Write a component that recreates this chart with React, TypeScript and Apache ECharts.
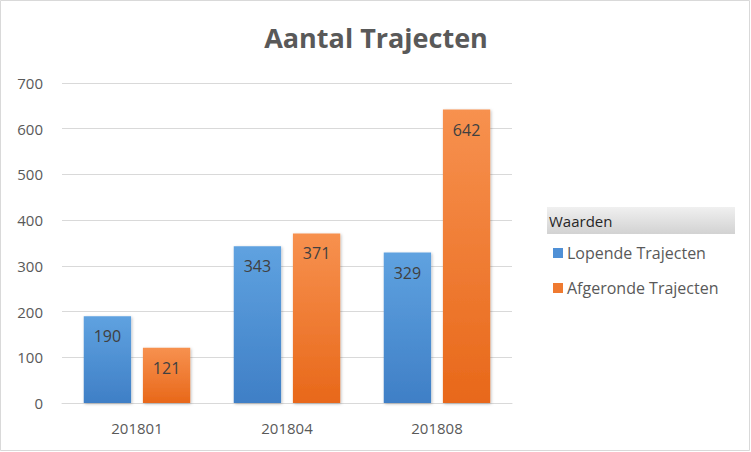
import React, { useEffect, useRef } from "react";
import * as echarts from "echarts";

const categories = ["201801", "201804", "201808"];
const lopende = [190, 343, 329];
const afgeronde = [121, 371, 642];
const seriesNames = ["Lopende Trajecten", "Afgeronde Trajecten"];
const yTicks = [0, 100, 200, 300, 400, 500, 600, 700];

const FONT = "'Open Sans', Lato, sans-serif";

export default function App() {
  const ref = useRef<HTMLDivElement>(null);
  useEffect(() => {
    if (!ref.current) return;
    const chart = echarts.init(ref.current, undefined, { renderer: "svg" });
    const blue = new echarts.graphic.LinearGradient(0, 0, 0, 1, [
      { offset: 0, color: "#5fa2e0" },
      { offset: 1, color: "#3f7fc6" },
    ]);
    const orange = new echarts.graphic.LinearGradient(0, 0, 0, 1, [
      { offset: 0, color: "#f7914f" },
      { offset: 1, color: "#e8681a" },
    ]);
    const label = {
      show: true,
      position: "insideTop" as const,
      distance: 12,
      fontSize: 16,
      color: "#404040",
      fontFamily: FONT,
    };
    chart.setOption({
      animation: false,
      backgroundColor: "#ffffff",
      title: {
        text: "Aantal Trajecten",
        left: 371,
        textAlign: "center",
        top: 19,
        textStyle: { fontSize: 27, fontWeight: "bold", color: "#595959", fontFamily: FONT },
      },
      grid: { left: 62, right: 239, top: 83, bottom: 49 },
      xAxis: {
        type: "category",
        data: categories,
        axisLine: { lineStyle: { color: "#d9d9d9", width: 1 } },
        axisTick: { show: false },
        axisLabel: { color: "#595959", fontSize: 15, margin: 17, fontFamily: FONT },
      },
      yAxis: {
        type: "value",
        min: yTicks[0],
        max: yTicks[yTicks.length - 1],
        interval: 100,
        axisLine: { show: false },
        axisTick: { show: false },
        splitLine: { lineStyle: { color: "#d9d9d9", width: 1 } },
        axisLabel: { color: "#595959", fontSize: 15, margin: 19, fontFamily: FONT },
      },
      legend: {
        orient: "vertical",
        left: 548,
        top: 240,
        itemWidth: 10,
        itemHeight: 10,
        itemGap: 19,
        icon: "rect",
        textStyle: { color: "#595959", fontSize: 16, fontFamily: FONT, padding: [0, 0, 0, -1] },
        data: [
          { name: seriesNames[0], itemStyle: { color: "#4f90d6" } },
          { name: seriesNames[1], itemStyle: { color: "#ef7a30" } },
        ],
      },
      graphic: [
        {
          type: "rect",
          shape: { x: 0.5, y: 0.5, width: 749, height: 450 },
          style: { fill: "none", stroke: "#d9d9d9", lineWidth: 1 },
          silent: true,
        },
        {
          type: "rect",
          shape: { x: 547, y: 207, width: 188, height: 27 },
          style: {
            fill: new echarts.graphic.LinearGradient(0, 0, 0, 1, [
              { offset: 0, color: "#f0f0f0" },
              { offset: 1, color: "#d2d2d2" },
            ]),
          },
          silent: true,
        },
        {
          type: "text",
          x: 549,
          y: 221,
          style: {
            text: "Waarden",
            fill: "#262626",
            fontSize: 15,
            fontFamily: FONT,
            verticalAlign: "middle",
          },
          silent: true,
        },
      ],
      series: [
        {
          name: seriesNames[0],
          type: "bar",
          data: lopende,
          barGap: "25%",
          barCategoryGap: "29%",
          itemStyle: {
            color: blue,
            shadowBlur: 3,
            shadowColor: "rgba(0,0,0,0.25)",
            shadowOffsetX: 1,
            shadowOffsetY: 1,
          },
          label,
        },
        {
          name: seriesNames[1],
          type: "bar",
          data: afgeronde,
          barGap: "25%",
          barCategoryGap: "29%",
          itemStyle: {
            color: orange,
            shadowBlur: 3,
            shadowColor: "rgba(0,0,0,0.25)",
            shadowOffsetX: 1,
            shadowOffsetY: 1,
          },
          label,
        },
      ],
    });
    return () => chart.dispose();
  }, []);
  return (
    <div
      ref={ref}
      style={{ position: "fixed", left: 0, top: 0, width: 751, height: 452 }}
    />
  );
}
